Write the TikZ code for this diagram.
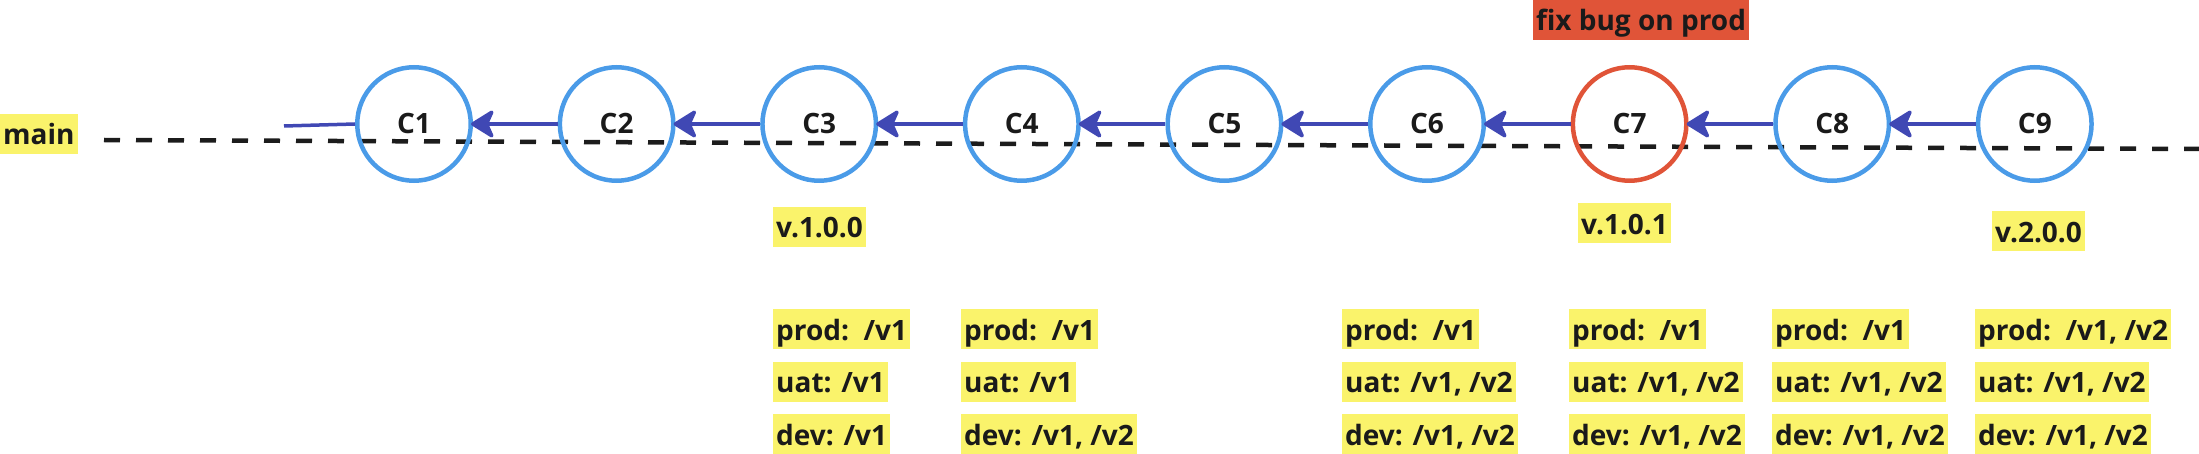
\documentclass[tikz,border=0pt]{standalone}
\usepackage{fontspec}
\setmainfont{Open Sans}
\usetikzlibrary{arrows.meta}
\definecolor{cblue}{RGB}{74,155,232}
\definecolor{cred}{RGB}{224,84,56}
\definecolor{arrowc}{RGB}{64,72,180}
\definecolor{yel}{RGB}{250,243,107}
\definecolor{ink}{RGB}{26,26,26}
\definecolor{dashc}{RGB}{28,28,28}
\begin{document}
\begin{tikzpicture}[x=1pt,y=-1pt,
  commit/.style={circle, draw=cblue, line width=4.5pt, minimum size=113.5pt, inner sep=0pt, text=ink, font=\fontsize{28}{34}\selectfont\bfseries},
  fixcommit/.style={commit, draw=cred},
  tag/.style={fill=yel, anchor=west, inner xsep=3pt, inner ysep=0pt, text height=31pt, text depth=9pt, text=ink, font=\fontsize{28}{34}\selectfont\bfseries},
  note/.style={tag, fill=cred, anchor=center},
  parent/.style={draw=arrowc, line width=3.5pt, shorten >=-2pt, -{Stealth[length=26pt,width=32pt,inset=7pt,round]}},
  stub/.style={draw=arrowc, line width=3.5pt},
  branch/.style={draw=dashc, line width=4.5pt, dash pattern=on 16pt off 16pt}
]
\useasboundingbox (0,0) rectangle (2199,454);
% branch line
\coordinate (m0) at (104,140);
\coordinate (m1) at (2199,149);
\draw[branch] (m0) -- (m1);
% commits
\node[commit] (C1) at (414,124) {C1};
\node[commit] (C2) at (616.6,124) {C2};
\node[commit] (C3) at (819.2,124) {C3};
\node[commit] (C4) at (1021.8,124) {C4};
\node[commit] (C5) at (1224.4,124) {C5};
\node[commit] (C6) at (1427,124) {C6};
\node[fixcommit] (C7) at (1629.6,124) {C7};
\node[commit] (C8) at (1832.2,124) {C8};
\node[commit] (C9) at (2034.8,124) {C9};
% connectors
\coordinate (s0) at (284,126);
\draw[stub] (s0) -- (C1.west);
\draw[parent] (C2.west) -- (C1.east);
\draw[parent] (C3.west) -- (C2.east);
\draw[parent] (C4.west) -- (C3.east);
\draw[parent] (C5.west) -- (C4.east);
\draw[parent] (C6.west) -- (C5.east);
\draw[parent] (C7.west) -- (C6.east);
\draw[parent] (C8.west) -- (C7.east);
\draw[parent] (C9.west) -- (C8.east);
% labels
\node[tag] (main) at (0,134) {main};
\node[note] (fix) at (1641,20) {fix bug on prod};
\node[tag] (v100) at (773,227) {v.1.0.0};
\node[tag] (v101) at (1578,223.5) {v.1.0.1};
\node[tag] (v200) at (1992,231.5) {v.2.0.0};
% environment tables
\node[tag] (p1) at (773,329) {prod:\ \ /v1};
\node[tag] (u1) at (773,381.5) {uat: /v1};
\node[tag] (d1) at (773,434) {dev: /v1};
\node[tag] (p2) at (961,329) {prod:\ \ /v1};
\node[tag] (u2) at (961,381.5) {uat: /v1};
\node[tag] (d2) at (961,434) {dev: /v1, /v2};
\node[tag] (p3) at (1342,329) {prod:\ \ /v1};
\node[tag] (u3) at (1342,381.5) {uat: /v1, /v2};
\node[tag] (d3) at (1342,434) {dev: /v1, /v2};
\node[tag] (p4) at (1569,329) {prod:\ \ /v1};
\node[tag] (u4) at (1569,381.5) {uat: /v1, /v2};
\node[tag] (d4) at (1569,434) {dev: /v1, /v2};
\node[tag] (p5) at (1772,329) {prod:\ \ /v1};
\node[tag] (u5) at (1772,381.5) {uat: /v1, /v2};
\node[tag] (d5) at (1772,434) {dev: /v1, /v2};
\node[tag] (p6) at (1975,329) {prod:\ \ /v1, /v2};
\node[tag] (u6) at (1975,381.5) {uat: /v1, /v2};
\node[tag] (d6) at (1975,434) {dev: /v1, /v2};
\end{tikzpicture}
\end{document}
